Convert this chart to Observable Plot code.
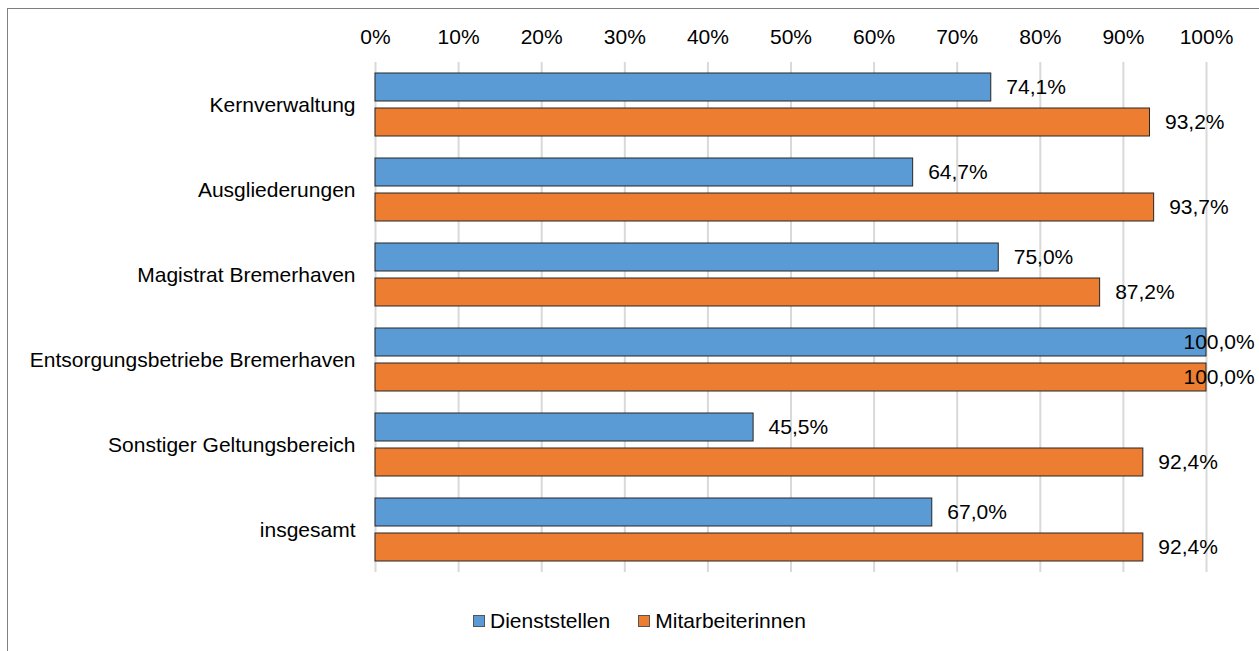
<!DOCTYPE html>
<html><head><meta charset="utf-8">
<script src="https://cdn.jsdelivr.net/npm/d3@7"></script>
<script src="https://cdn.jsdelivr.net/npm/@observablehq/plot@0.6"></script>
<style>
body{margin:0;background:#fff;font-family:"Liberation Sans",Arial,sans-serif;}
#wrap{position:relative;width:1259px;height:651px;overflow:hidden;}
#frame{position:absolute;left:7px;top:8px;width:1400px;height:800px;border-top:1px solid #7f7f7f;border-left:1px solid #7f7f7f;}
#chart{position:absolute;left:0;top:0;}
#legend{position:absolute;left:473px;top:609px;display:flex;align-items:center;font-size:21px;color:#000;line-height:24px;}
.sw{width:10px;height:10px;border:1px solid #555;display:inline-block;margin-right:5px;}
.item{display:flex;align-items:center;margin-right:28px;}
</style></head>
<body><div id="wrap"><div id="frame"></div><div id="chart"></div>
<div id="legend"></div></div>
<script>
const categories = ["Kernverwaltung","Ausgliederungen","Magistrat Bremerhaven","Entsorgungsbetriebe Bremerhaven","Sonstiger Geltungsbereich","insgesamt"];
const series = ["Dienststellen","Mitarbeiterinnen"];
const dienststellen = [74.1, 64.7, 75.0, 100.0, 45.5, 67.0];
const mitarbeiterinnen = [93.2, 93.7, 87.2, 100.0, 92.4, 92.4];
const xTicks = [0,10,20,30,40,50,60,70,80,90,100];
const colors = ["#5B9BD5","#ED7D31"];

const data = [];
categories.forEach((c,i)=>{
  data.push({cat:c, s:series[0], v:dienststellen[i]});
  data.push({cat:c, s:series[1], v:mitarbeiterinnen[i]});
});
const fmt = v => d3.format(".1f")(v).replace(".", ",") + "%";

const plot = Plot.plot({
  width:1259, height:600,
  marginLeft:375, marginRight:53, marginTop:62, marginBottom:28,
  style:{fontFamily:'"Liberation Sans",Arial,sans-serif', fontSize:"21px", color:"#000", background:"transparent"},
  x:{domain:[0,100], ticks:xTicks, tickFormat:d=>d+"%", axis:"top", tickSize:0, tickPadding:19, label:null},
  y:{domain:series, axis:null, paddingInner:0.2, paddingOuter:0.314},
  fy:{domain:categories, padding:0, axis:"left", tickSize:0, tickPadding:20, label:null},
  color:{domain:series, range:colors},
  marks:[
    Plot.ruleX(xTicks, {stroke:"#d9d9d9", strokeWidth:2}),
    Plot.barX(data, {x:"v", y:"s", fy:"cat", fill:"s", stroke:"#262626", strokeWidth:1}),
    Plot.text(data.filter(d=>d.v<100), {x:"v", y:"s", fy:"cat", text:d=>fmt(d.v), textAnchor:"start", dx:15, fill:"#000", fontSize:21}),
    Plot.text(data.filter(d=>d.v>=100), {x:"v", y:"s", fy:"cat", text:d=>fmt(d.v), textAnchor:"start", dx:-23, fill:"#000", fontSize:21})
  ]
});
document.getElementById("chart").appendChild(plot);

const lg = document.getElementById("legend");
series.forEach((s,i)=>{
  const it = document.createElement("div"); it.className="item";
  const sw = document.createElement("span"); sw.className="sw"; sw.style.background=colors[i];
  it.appendChild(sw); it.appendChild(document.createTextNode(s)); lg.appendChild(it);
});
</script></body></html>
